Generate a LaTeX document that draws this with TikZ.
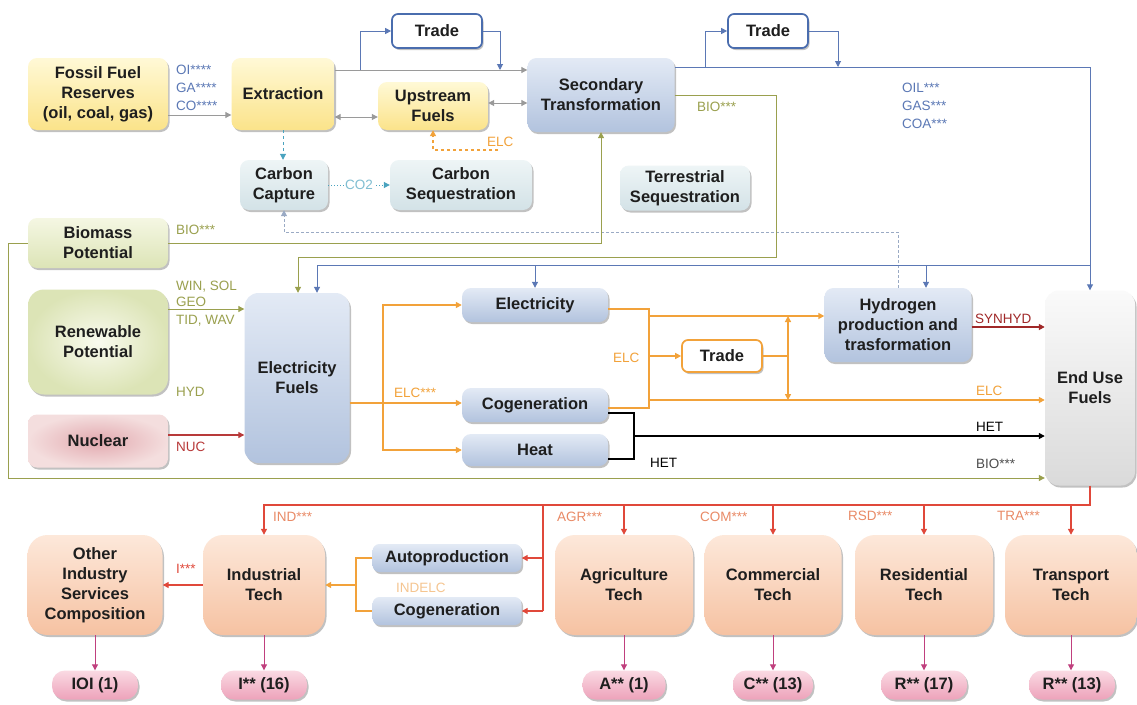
\documentclass[tikz,border=0pt]{standalone}
\usepackage{fontspec}
\setmainfont{Liberation Sans}
\usetikzlibrary{arrows.meta,shadows,calc}

\definecolor{txt}{HTML}{1E1E1E}
\definecolor{yelT}{HTML}{FFF9D6}
\definecolor{yelB}{HTML}{FBE38A}
\definecolor{bluT}{HTML}{E3EAF5}
\definecolor{bluB}{HTML}{B2C3DE}
\definecolor{cyT}{HTML}{EEF5F6}
\definecolor{cyB}{HTML}{D3E2E7}
\definecolor{grT}{HTML}{F5F7E3}
\definecolor{grB}{HTML}{DCE4B6}
\definecolor{pkI}{HTML}{E2A9AF}
\definecolor{pkO}{HTML}{F4DEDE}
\definecolor{gyT}{HTML}{FAFAFA}
\definecolor{gyB}{HTML}{DADADA}
\definecolor{pcT}{HTML}{FDE8DA}
\definecolor{pcB}{HTML}{F6C2A2}
\definecolor{piT}{HTML}{FADAE3}
\definecolor{piB}{HTML}{EDA2BA}
\definecolor{lgray}{HTML}{9A9A9A}
\definecolor{lblue}{HTML}{5B78B5}
\definecolor{tblue}{HTML}{4A6DAE}
\definecolor{olv}{HTML}{9AA04E}
\definecolor{orng}{HTML}{F2A23A}
\definecolor{lorng}{HTML}{F5C590}
\definecolor{nred}{HTML}{B83A3A}
\definecolor{dred}{HTML}{A02828}
\definecolor{ered}{HTML}{E0483A}
\definecolor{elab}{HTML}{E98A66}
\definecolor{mag}{HTML}{C0407E}
\definecolor{teal1}{HTML}{4AA3BF}
\definecolor{dotc}{HTML}{9AAAC4}

\begin{document}
\begin{tikzpicture}[x=1pt,y=-1pt,>={Triangle[length=6pt,width=6pt]},
  box/.style={rounded corners=9pt, align=center, text=txt, inner sep=1pt,
    font=\bfseries\fontsize{16.5}{20}\selectfont,
    drop shadow={shadow xshift=1.5pt,shadow yshift=-2pt,opacity=.4,fill=black!60}},
  sz/.style n args={2}{minimum width=#1pt,minimum height=#2pt},
  yel/.style={box, top color=yelT, bottom color=yelB},
  blu/.style={box, top color=bluT, bottom color=bluB},
  cyb/.style={box, top color=cyT, bottom color=cyB},
  grn/.style={box, top color=grT, bottom color=grB},
  grn2/.style={box, inner color=grT!60!white, outer color=grB},
  pnk/.style={box, inner color=pkI, outer color=pkO},
  gry/.style={box, top color=gyT, bottom color=gyB},
  pch/.style={box, rounded corners=20pt, top color=pcT, bottom color=pcB, sz={137}{100}},
  pill/.style={box, rounded corners=13pt, top color=piT, bottom color=piB, minimum height=29pt},
  tradeb/.style={box, rounded corners=6pt, fill=white, draw=tblue, line width=1.7pt},
  tradeo/.style={box, rounded corners=6pt, fill=white, draw=orng, line width=1.7pt},
  gl/.style={draw=lgray, line width=1pt},
  bl/.style={draw=lblue, line width=1pt},
  ol/.style={draw=olv, line width=1pt},
  orl/.style={draw=orng, line width=1.8pt},
  rd/.style={draw=nred, line width=1.2pt},
  rd2/.style={draw=ered, line width=1.2pt},
  mg/.style={draw=mag, line width=1pt},
  lab/.style={font=\fontsize{13.5}{16}\selectfont, inner sep=0pt, anchor=west}
]
\fill[white] (0,0) rectangle (1137,704);
\path[use as bounding box] (0,0) rectangle (1137,704);

% ---------- nodes ----------
\node[yel, sz={140}{72}] (fossil) at (98,94) {Fossil Fuel\\Reserves\\(oil, coal, gas)};
\node[yel, sz={103}{72}] (extract) at (283,94) {Extraction};
\node[tradeb, sz={90}{34}] (tradeA) at (437,31) {Trade};
\node[yel, sz={110}{48}] (upstream) at (433,106) {Upstream\\Fuels};
\node[blu, sz={147}{74}] (second) at (601,95) {Secondary\\Transformation};
\node[tradeb, sz={80}{34}] (tradeB) at (768,31) {Trade};
\node[cyb, sz={88}{50}] (ccap) at (284,185) {Carbon\\Capture};
\node[cyb, sz={142}{50}] (cseq) at (461,185) {Carbon\\Sequestration};
\node[cyb, sz={130}{45}] (tseq) at (685,188) {Terrestrial\\Sequestration};
\node[grn, sz={140}{50}] (biomass) at (98,243) {Biomass\\Potential};
\node[grn2, sz={140}{105}, rounded corners=16pt] (renew) at (98,342) {Renewable\\Potential};
\node[pnk, sz={140}{53}] (nuclear) at (98,441) {Nuclear};
\node[blu, sz={105}{170}, rounded corners=14pt] (elfuel) at (297,378) {Electricity\\Fuels};
\node[blu, sz={146}{34}] (elec) at (535,305) {Electricity};
\node[blu, sz={146}{34}] (cogen) at (535,405) {Cogeneration};
\node[blu, sz={146}{32}] (heat) at (535,450) {Heat};
\node[tradeo, sz={80}{32}] (tradeC) at (722,356) {Trade};
\node[blu, sz={147}{74}] (hydro) at (898,325) {Hydrogen\\production and\\trasformation};
\node[gry, sz={90}{195}, rounded corners=14pt] (enduse) at (1090,388) {End Use\\Fuels};

\node[pch, sz={135}{100}] (other) at (95,585) {Other\\Industry\\Services\\Composition};
\node[pch, sz={122}{100}] (indtech) at (264,585) {Industrial\\Tech};
\node[blu, sz={149}{28}, rounded corners=7pt] (autop) at (447,558) {Autoproduction};
\node[blu, sz={149}{28}, rounded corners=7pt] (cogen2) at (447,611) {Cogeneration};
\node[pch, sz={138}{100}] (agri) at (624,585) {Agriculture\\Tech};
\node[pch, sz={137}{100}] (comm) at (773,585) {Commercial\\Tech};
\node[pch, sz={138}{100}] (resid) at (924,585) {Residential\\Tech};
\node[pch, sz={132}{100}] (transp) at (1071,585) {Transport\\Tech};

\node[pill, minimum width=86pt] (p1) at (95,685) {IOI (1)};
\node[pill, minimum width=86pt] (p2) at (264,685) {I** (16)};
\node[pill, minimum width=83pt] (p3) at (624,685) {A** (1)};
\node[pill, minimum width=80pt] (p4) at (773,685) {C** (13)};
\node[pill, minimum width=86pt] (p5) at (924,685) {R** (17)};
\node[pill, minimum width=86pt] (p6) at (1072,685) {R** (13)};

% ---------- coordinates ----------
\coordinate (j1) at (360,70);
\coordinate (j2) at (500,70);
\coordinate (j3) at (705,67);
\coordinate (j4) at (838,67);
\coordinate (j5) at (1090,265);
\coordinate (hb) at (926,265);
\coordinate (elcA) at (498,150);
\coordinate (o1) at (383,403);
\coordinate (o2) at (649,356);
\coordinate (o3) at (788,356);
\coordinate (h1) at (634,436);
\coordinate (r1) at (543,505);
\coordinate (q1) at (356,585);

% ---------- top connectors ----------
\draw[gl,->] (fossil.east |- 0,115) -- (extract.west |- 0,115);
\draw[gl,<->] (extract.east |- 0,117) -- (upstream.west |- 0,117);
\draw[gl,->] (extract.east |- j1) -- (second.west |- j1);
\draw[bl,->] (j1) |- (tradeA.west);
\draw[bl,->] (tradeA.east) -| (j2);
\draw[gl,<->] (upstream.east |- 0,103) -- (second.west |- 0,103);
\draw[draw=orng, line width=1.2pt, dashed, ->] (elcA) -| (upstream.south);
\draw[draw=teal1, line width=1pt, dashed, ->] (extract.south) -- (extract.south |- ccap.north);
\draw[draw=teal1, line width=1pt, dotted, ->] (ccap.east) -- (cseq.west)
  node[midway, fill=white, inner sep=1pt, text=teal1!70, font=\fontsize{13.5}{16}\selectfont] {CO2};
\draw[draw=dotc, line width=1pt, densely dashed, ->] (hydro.north) -- (hydro.north |- 0,232) -| (ccap.south);

\draw[bl,->] (second.east |- j3) -| (enduse.north);
\draw[bl,->] (j3) |- (tradeB.west);
\draw[bl,->] (tradeB.east) -| (j4);
\draw[bl,->] (j5) -| ($(elfuel.north)+(20,0)$);
\draw[bl,->] (elec.north |- j5) -- (elec.north);
\draw[bl,->] (hb) -- (hb |- hydro.north);

\draw[ol,->] (second.east) -| (776,257) -| ($(elfuel.north)+(1,0)$);
\draw[ol,->] (biomass.east) -| (second.south);
\draw[ol,->] (biomass.west) -| (8,478) -- (enduse.west |- 0,478);
\draw[ol,->] (renew.east |- 0,309) -- (elfuel.west |- 0,309);
\draw[rd,->] (nuclear.east |- 0,435) -- (elfuel.west |- 0,435);

% ---------- electricity block ----------
\draw[orl,->] (elfuel.east |- o1) -- (cogen.west |- o1);
\draw[orl,->] (o1) |- (elec.west);
\draw[orl,->] (o1) |- (heat.west);
\draw[orl] (elec.east |- 0,309) -| (o2) |- (cogen.east |- 0,408);
\draw[orl,->] (o2 |- 0,316) -- (hydro.west |- 0,316);
\draw[orl,->] (o2 |- 0,400) -- (enduse.west |- 0,400);
\draw[draw=orng, line width=1.4pt, ->] (o2) -- (tradeC.west);
\draw[draw=orng, line width=1.4pt] (tradeC.east) -- (o3);
\draw[draw=orng, line width=1.4pt, ->] (o3) -- (o3 |- 0,316);
\draw[draw=orng, line width=1.4pt, ->] (o3) -- (o3 |- 0,400);
\draw[draw=dred, line width=2pt, ->] (hydro.east |- 0,327) -- (enduse.west |- 0,327);
\draw[draw=black, line width=1.4pt] (cogen.east |- 0,413) -| (h1) |- (heat.east |- 0,459);
\draw[draw=black, line width=1.4pt, ->] (h1) -- (enduse.west |- h1);

% ---------- end use distribution ----------
\draw[rd2,->] (enduse.south) |- (indtech.north |- r1) -- (indtech.north);
\draw[rd2,->] (agri.north |- r1) -- (agri.north);
\draw[rd2,->] (comm.north |- r1) -- (comm.north);
\draw[rd2,->] (resid.north |- r1) -- (resid.north);
\draw[rd2,->] (transp.north |- r1) -- (transp.north);
\draw[rd2] (r1) -- (r1 |- cogen2.east);
\draw[rd2,->] (r1 |- autop.east) -- (autop.east);
\draw[rd2,->] (r1 |- cogen2.east) -- (cogen2.east);
\draw[orl] (autop.west) -| (q1 |- cogen2.west) -- (cogen2.west);
\draw[orl,->] (q1) -- (indtech.east);
\draw[rd2,->] (indtech.west) -- (other.east);

\foreach \a/\b in {other/p1, indtech/p2, agri/p3, comm/p4, resid/p5, transp/p6}
  \draw[mg,->] (\a.south) -- (\a.south |- \b.north);

% ---------- labels ----------
\begin{scope}[every node/.style={lab}]
\node[text=lblue] at (176,70) {OI****};
\node[text=lblue] at (176,88) {GA****};
\node[text=lblue] at (176,106) {CO****};
\node[text=lblue] at (902,88) {OIL***};
\node[text=lblue] at (902,106) {GAS***};
\node[text=lblue] at (902,124) {COA***};
\node[text=olv] at (176,230) {BIO***};
\node[text=olv] at (697,107) {BIO***};
\node[text=olv] at (176,287) {WIN, SOL};
\node[text=olv] at (176,302) {GEO};
\node[text=olv] at (176,321) {TID, WAV};
\node[text=olv] at (176,392) {HYD};
\node[text=nred] at (176,447) {NUC};
\node[text=orng] at (487,142) {ELC};
\node[text=orng] at (394,393) {ELC***};
\node[text=orng] at (613,358) {ELC};
\node[text=orng] at (976,391) {ELC};
\node[text=lorng] at (396,588) {INDELC};
\node[text=dred] at (975,319) {SYNHYD};
\node[text=black] at (976,427) {HET};
\node[text=black] at (650,463) {HET};
\node[text=black!70] at (976,464) {BIO***};
\node[text=elab] at (273,517) {IND***};
\node[text=elab] at (557,517) {AGR***};
\node[text=elab] at (700,517) {COM***};
\node[text=elab] at (848,516) {RSD***};
\node[text=elab] at (997,516) {TRA***};
\node[text=ered] at (176,569) {I***};
\end{scope}
\end{tikzpicture}
\end{document}
